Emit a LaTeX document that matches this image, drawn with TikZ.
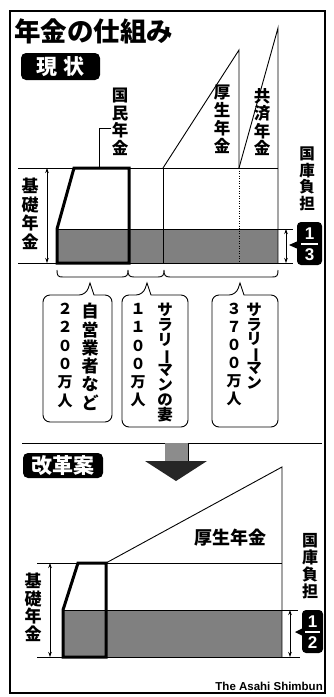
\documentclass[tikz,border=0pt]{standalone}
\usepackage{fontspec}
\setsansfont{Liberation Sans}
\newfontfamily\cjk{Noto Sans CJK JP}
\usetikzlibrary{arrows.meta}
\newcommand{\vbarmark}{\rotatebox[origin=c]{-90}{ー}}
\newcommand{\vfnt}[2]{\cjk\bfseries\fontsize{#1}{#2}\selectfont}
\begin{document}
\lineskiplimit=-100pt
\begin{tikzpicture}[x=1pt,y=-1pt,
  ln/.style={line width=0.9pt},
  thk/.style={line width=3pt, line join=miter},
  shade/.style={fill=black!50},
  dar/.style={{Stealth[length=5pt,width=3.5pt]}-{Stealth[length=5pt,width=3.5pt]}, line width=0.8pt},
  vl/.style 2 args={anchor=north, inner sep=0pt, align=center, font=\vfnt{#1}{#2}},
  badge/.style={fill=black, rounded corners=5pt, text=white, inner sep=0pt, font=\vfnt{21}{21}},
  frac/.style={text=white, inner sep=0pt, font=\sffamily\bfseries\fontsize{17}{17}\selectfont},
  callout/.style={line width=0.9pt}
]
\useasboundingbox (0,0) rectangle (334,697);
% frame
\draw[line width=1.2pt] (10,11) rectangle (325,693);
% title
\node[anchor=west, inner sep=0pt, font=\vfnt{26.5}{26.5}] (title) at (14,31) {年金の仕組み};
\node[badge, minimum width=79pt, minimum height=27pt] (genjo) at (60.5,66.5) {現\hspace{6pt}状};

% ---------- top chart ----------
\fill[shade] (57,229) rectangle (278,263);
\draw[ln] (18,168) -- (278,168);
\draw[ln] (18,263) -- (293,263);
\draw[ln] (57,229) -- (293,229);
\draw[ln] (163,168) -- (163,263);
\draw[ln] (163,168) -- (239,50) -- (239,168);
\draw[ln, dash pattern=on 1pt off 1.5pt] (239,168) -- (239,263);
\draw[ln] (239,168) -- (278,28) -- (278,263);
\draw[ln] (99,168) -- (99,128) -- (111,128);
\draw[thk] (57,263) -- (57,229) -- (74,168) -- (129,168) -- (129,263) -- cycle;
\draw[dar] (47,168) -- (47,263);
\draw[dar] (286,229) -- (286,263);

\node[vl={16.5}{17.5}] (kokumin) at (120,88) {国\\民\\年\\金};
\node[vl={16.5}{18}] (kosei) at (222,85) {厚\\生\\年\\金};
\node[vl={16.5}{17.5}] (kyosai) at (262,88) {共\\済\\年\\金};
\node[vl={17}{18.5}] (kiso1) at (30,178) {基\\礎\\年\\金};
\node[vl={15.5}{16.5}] (kokko1) at (307,147) {国\\庫\\負\\担};

% 1/3 badge
\fill[rounded corners=4pt] (297,222) rectangle (322,265);
\fill (298,241) -- (289,245) -- (298,249) -- cycle;
\draw[white, line width=1.2pt] (301,244) -- (318,244);
\node[frac] (n1) at (309.5,234) {1};
\node[frac] (d3) at (309.5,255) {3};

% braces
\draw[ln] (57,270) .. controls (57,276) and (58,277) .. (63,277) -- (122,277)
  .. controls (127,277) and (128,275) .. (128,270)
  .. controls (128,275) and (129,277) .. (134,277) -- (158,277)
  .. controls (163,277) and (164,275) .. (164,270)
  .. controls (164,275) and (165,277) .. (170,277) -- (272,277)
  .. controls (277,277) and (278,276) .. (278,270);

% callouts
\draw[callout] (43,360) [rounded corners=7pt] |- (86,295) [sharp corners] -- (90,283) -- (94,295) [rounded corners=7pt] -| (112,422) -| (43,360) [sharp corners] -- cycle;
\draw[callout] (122,360) [rounded corners=7pt] |- (143,295) [sharp corners] -- (147,283) -- (151,295) [rounded corners=7pt] -| (188,427) -| (122,360) [sharp corners] -- cycle;
\draw[callout] (212,360) [rounded corners=7pt] |- (236,295) [sharp corners] -- (240,283) -- (244,295) [rounded corners=7pt] -| (278,427) -| (212,360) [sharp corners] -- cycle;

\node[vl={17}{18.3}] (c1a) at (90,303) {自\\営\\業\\者\\な\\ど};
\node[vl={15}{18.3}] (c1b) at (65,303) {２\\２\\０\\０\\万\\人};
\node[vl={15.5}{15}] (c2a) at (165,303) {サ\\ラ\\リ\\\vbarmark\\マ\\ン\\の\\妻};
\node[vl={15}{18.3}] (c2b) at (138,303) {１\\１\\０\\０\\万\\人};
\node[vl={15.5}{14.5}] (c3a) at (254,303) {サ\\ラ\\リ\\\vbarmark\\マ\\ン};
\node[vl={15}{18}] (c3b) at (234,303) {３\\７\\０\\０\\万\\人};

% divider and big arrow
\draw[ln] (22,443) -- (165,443) -- (165,461);
\draw[ln] (322,443) -- (188,443) -- (188,461);
\fill[black!45] (165,443) rectangle (188,461);
\fill[black!85] (145,461) -- (207,461) -- (176,481) -- cycle;

\node[badge, minimum width=80pt, minimum height=25pt] (kaikaku) at (63,465.5) {改革案};

% ---------- bottom chart ----------
\fill[shade] (63,610) rectangle (282,657);
\draw[ln] (37,563) -- (282,563);
\draw[ln] (37,657) -- (300,657);
\draw[ln] (63,610) -- (298,610);
\draw[ln] (106,563) -- (282,467) -- (282,657);
\draw[thk] (63,657) -- (63,610) -- (78,563) -- (106,563) -- (106,657) -- cycle;
\draw[dar] (50,563) -- (50,657);
\draw[dar] (290,610) -- (290,657);

\node[inner sep=0pt, font=\vfnt{18}{18}] (kosei2) at (230,538) {厚生年金};
\node[vl={17}{17.5}] (kiso2) at (33,573) {基\\礎\\年\\金};
\node[vl={16}{17.2}] (kokko2) at (310,533) {国\\庫\\負\\担};

% 1/2 badge
\fill[rounded corners=4pt] (302,610) rectangle (323,653);
\fill (303,628) -- (295,632) -- (303,636) -- cycle;
\draw[white, line width=1.2pt] (305,632) -- (320,632);
\node[frac] (n2) at (312.5,622) {1};
\node[frac] (d2) at (312.5,643) {2};

\node[anchor=base east, inner sep=0pt, font=\sffamily\bfseries\fontsize{11.5}{11.5}\selectfont] (credit) at (323,690) {The Asahi Shimbun};
\end{tikzpicture}
\end{document}
